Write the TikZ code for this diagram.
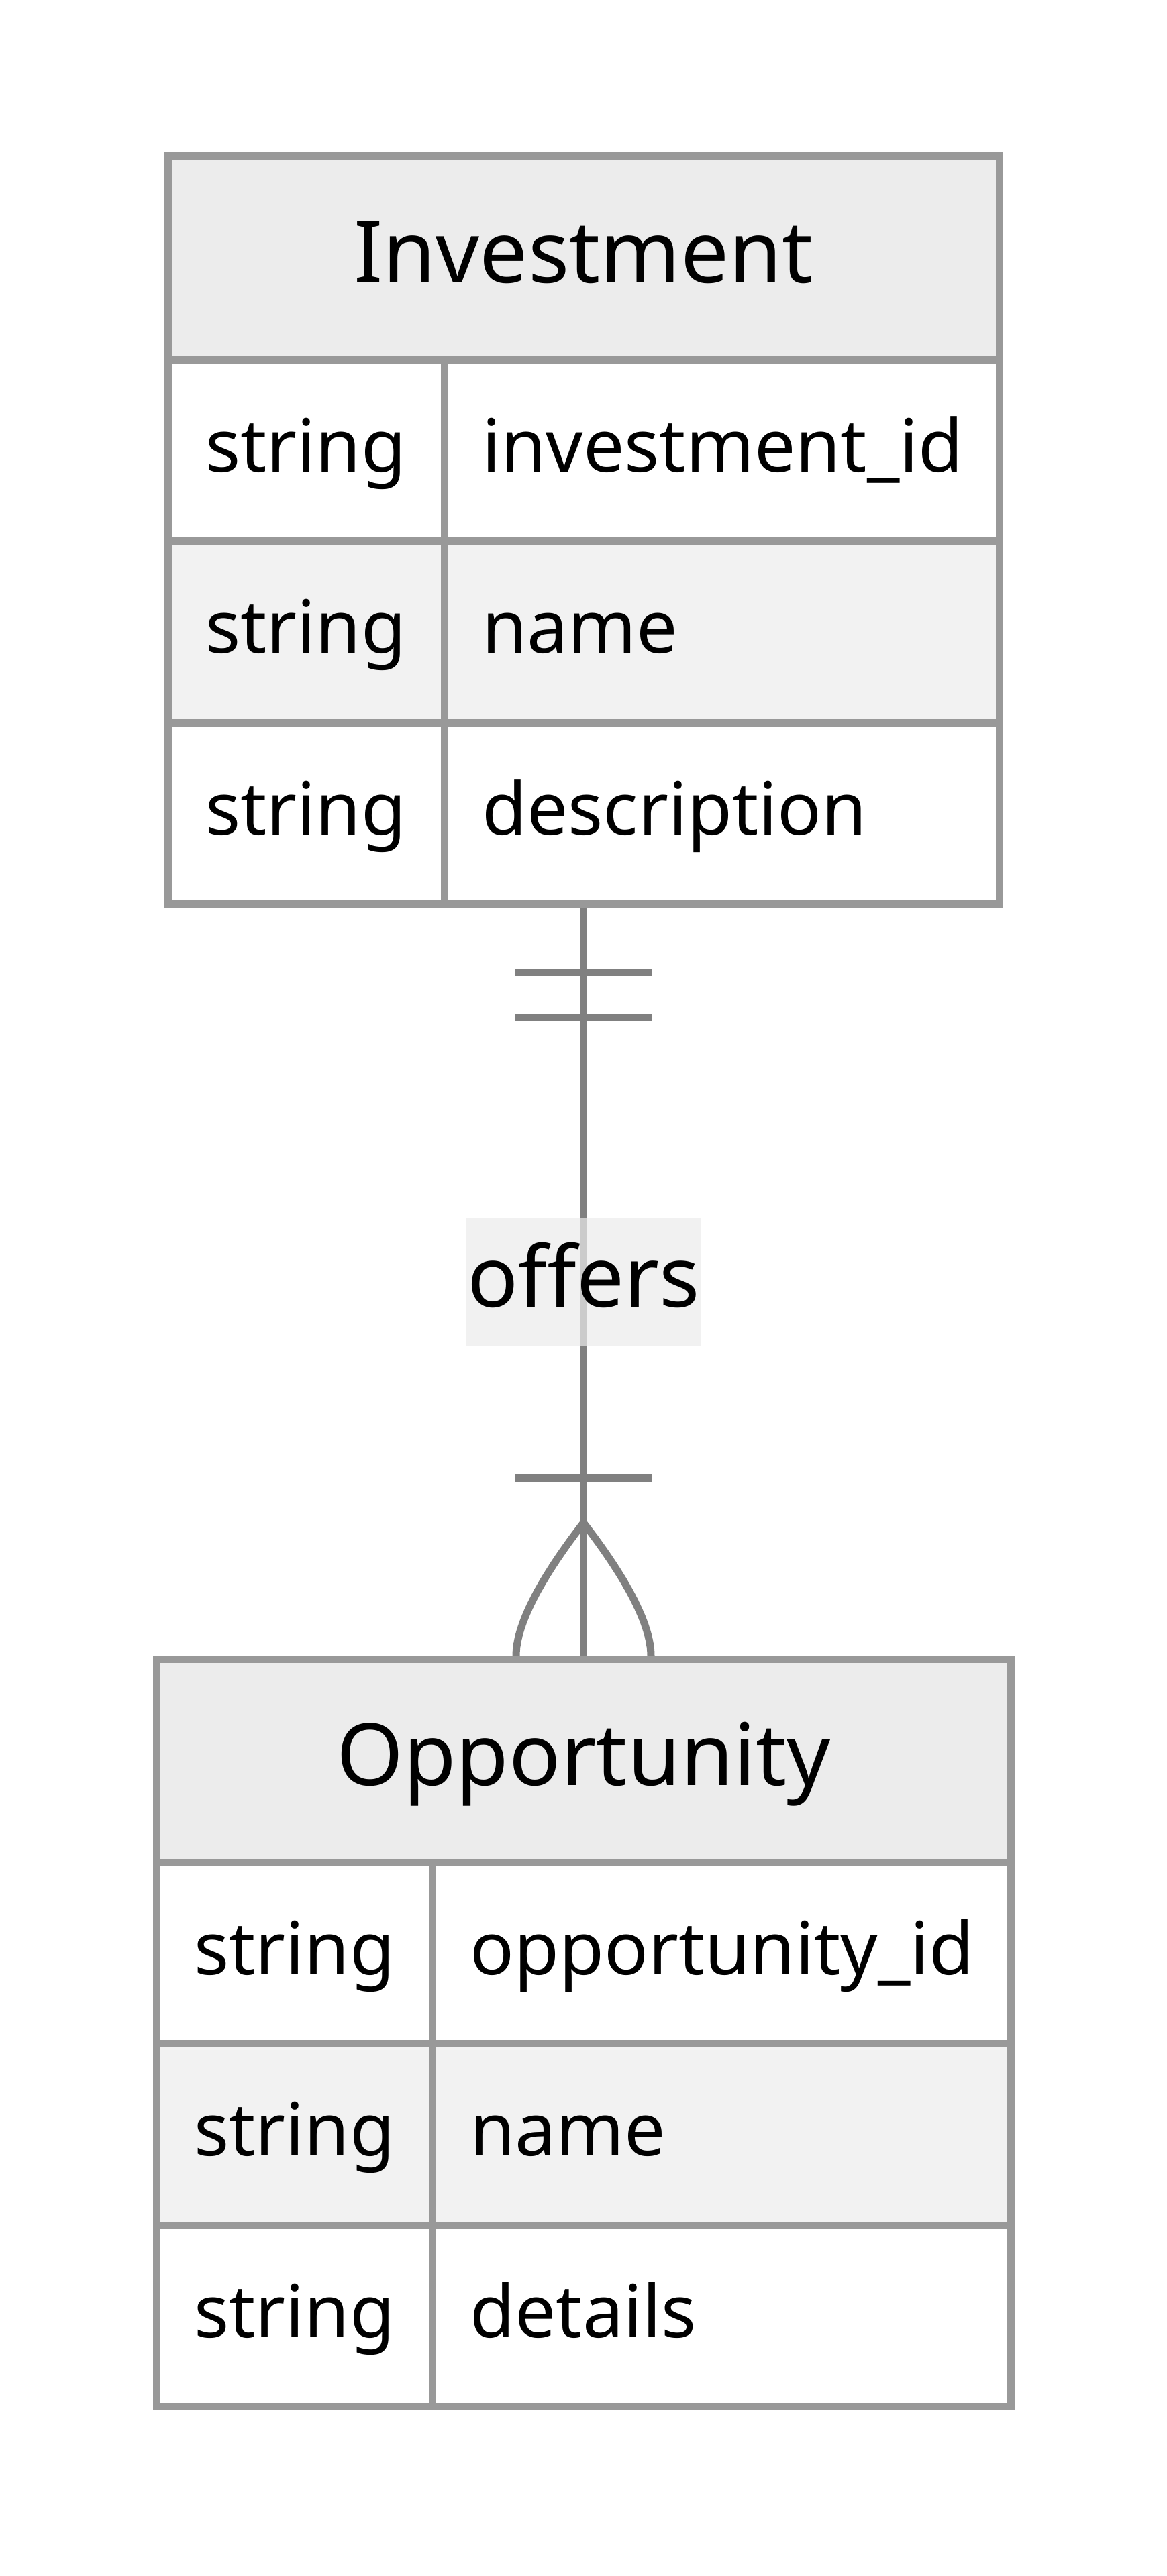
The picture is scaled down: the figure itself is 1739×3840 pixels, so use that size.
\documentclass[tikz,border=0pt]{standalone}
\usepackage{fontspec}
\setmainfont{Noto Sans}
\definecolor{bordergray}{RGB}{153,153,153}
\definecolor{linegray}{RGB}{128,128,128}
\definecolor{headfill}{RGB}{236,236,236}
\definecolor{evenfill}{RGB}{242,242,242}
\definecolor{lblfill}{RGB}{236,236,236}
\newcommand{\attrfont}{\fontsize{109}{130}\selectfont}
\newcommand{\headfont}{\fontsize{128}{150}\selectfont}
\newcommand{\lblfont}{\fontsize{126}{150}\selectfont}
\tikzset{
  entbox/.style={draw=bordergray, line width=11pt, rectangle, inner sep=0pt, outer sep=0pt, anchor=north west},
  gridline/.style={draw=bordergray, line width=11pt},
  attr/.style={font=\attrfont, inner sep=0pt, anchor=west, text height=73pt, text depth=9pt},
  head/.style={font=\headfont, inner sep=0pt, anchor=center, text height=92pt, text depth=10pt},
  rellabel/.style={font=\lblfont, inner sep=0pt, anchor=center, fill=lblfill, fill opacity=0.7, text opacity=1,
    minimum width=351pt, minimum height=191pt, text height=85pt, text depth=10pt},
  relline/.style={draw=linegray, line width=11pt},
}
\begin{document}
\begin{tikzpicture}[x=1pt,y=-1pt]
\useasboundingbox[fill=white] (0,0) rectangle (1739,3840);

% ---------- Investment ----------
\fill[headfill] (250,233) rectangle (1489,536);
\fill[white] (250,536) rectangle (1489,806.5);
\fill[evenfill] (250,806.5) rectangle (1489,1077);
\fill[white] (250,1077) rectangle (1489,1347.5);
\draw[gridline] (250,536) -- (1489,536) (250,806.5) -- (1489,806.5) (250,1077) -- (1489,1077) (662,536) -- (662,1347.5);
\node[entbox, minimum width=1239pt, minimum height=1114.5pt] (inv) at (250,233) {};
\node[head] (invT) at (869.5,380.5) {Investment};
\node[attr] (inv1t) at (306,671.25) {string};
\node[attr] (inv1n) at (718,671.25) {investment\_id};
\node[attr] (inv2t) at (306,941.75) {string};
\node[attr] (inv2n) at (718,941.75) {name};
\node[attr] (inv3t) at (306,1212.25) {string};
\node[attr] (inv3n) at (718,1212.25) {description};

% ---------- Opportunity ----------
\fill[headfill] (233,2473) rectangle (1506,2776);
\fill[white] (233,2776) rectangle (1506,3046.5);
\fill[evenfill] (233,3046.5) rectangle (1506,3317);
\fill[white] (233,3317) rectangle (1506,3587.5);
\draw[gridline] (233,2776) -- (1506,2776) (233,3046.5) -- (1506,3046.5) (233,3317) -- (1506,3317) (644,2776) -- (644,3587.5);
\node[entbox, minimum width=1273pt, minimum height=1114.5pt] (opp) at (233,2473) {};
\node[head] (oppT) at (869.5,2620.5) {Opportunity};
\node[attr] (opp1t) at (289,2911.25) {string};
\node[attr] (opp1n) at (700,2911.25) {opportunity\_id};
\node[attr] (opp2t) at (289,3181.75) {string};
\node[attr] (opp2n) at (700,3181.75) {name};
\node[attr] (opp3t) at (289,3452.25) {string};
\node[attr] (opp3n) at (700,3452.25) {details};

% ---------- relationship ----------
\draw[relline, shorten <=5.5pt, shorten >=5.5pt] (inv.south) -- (opp.north);
% exactly one (Investment side)
\draw[relline] (768,1449) -- (971,1449);
\draw[relline] (768,1516) -- (971,1516);
% one or more (Opportunity side)
\draw[relline] (768,2203) -- (971,2203);
\draw[relline, line join=miter] (769,2468) .. controls (769,2424) and (802.5,2356.7) .. (869.5,2270)
  .. controls (936.5,2356.7) and (970,2424) .. (970,2468);
\node[rellabel] (offers) at (869.5,1910.5) {offers};
\end{tikzpicture}
\end{document}
